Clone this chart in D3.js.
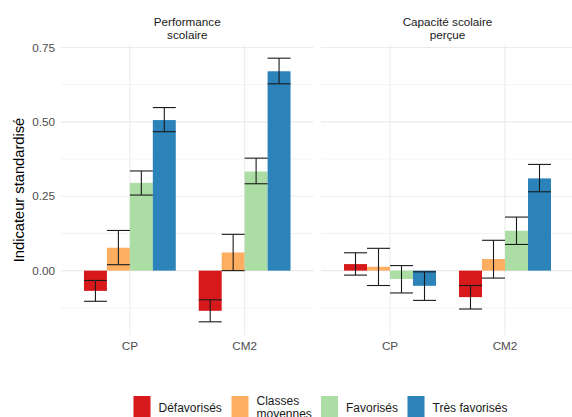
<!DOCTYPE html>
<html>
<head>
<meta charset="utf-8">
<script src="https://cdn.jsdelivr.net/npm/d3@7"></script>
<style>
  html, body { margin: 0; padding: 0; background: #fff; }
  svg { display: block; font-family: "Liberation Sans", Arial, sans-serif; }
</style>
</head>
<body>
<svg id="chart" width="572" height="417"></svg>
<script>
// ---- data ----
const panels = ["Performance scolaire", "Capacité scolaire perçue"];
const panelTitleLines = [["Performance", "scolaire"], ["Capacité scolaire", "perçue"]];
const niveaux = ["CP", "CM2"];
const groupes = ["Défavorisés", "Classes moyennes", "Favorisés", "Très favorisés"];
const legendLabelLines = [["Défavorisés"], ["Classes", "moyennes"], ["Favorisés"], ["Très favorisés"]];
const couleurs = ["#d7191c", "#fdae61", "#abdda4", "#2b83ba"];

const perfCP   = [-0.068, 0.077, 0.295, 0.506];
const perfCPlo = [-0.103, 0.020, 0.254, 0.467];
const perfCPhi = [-0.033, 0.135, 0.335, 0.548];
const perfCM2   = [-0.135, 0.061, 0.333, 0.670];
const perfCM2lo = [-0.172, 0.000, 0.292, 0.628];
const perfCM2hi = [-0.098, 0.122, 0.378, 0.714];

const capCP   = [0.022, 0.013, -0.028, -0.051];
const capCPlo = [-0.015, -0.050, -0.075, -0.100];
const capCPhi = [0.060, 0.075, 0.017, -0.004];
const capCM2   = [-0.089, 0.039, 0.134, 0.310];
const capCM2lo = [-0.129, -0.025, 0.088, 0.265];
const capCM2hi = [-0.050, 0.102, 0.180, 0.357];

const majorTicks = [0, 0.25, 0.5, 0.75];
const minorTicks = [-0.125, 0.125, 0.375, 0.625];
const tickLabels = ["0.00", "0.25", "0.50", "0.75"];

// ---- build rows ----
const rows = [];
function addRows(panel, niveau, vals, lo, hi) {
  groupes.forEach((g, i) => rows.push({panel, niveau, groupe: g, value: vals[i], lo: lo[i], hi: hi[i]}));
}
addRows(panels[0], "CP", perfCP, perfCPlo, perfCPhi);
addRows(panels[0], "CM2", perfCM2, perfCM2lo, perfCM2hi);
addRows(panels[1], "CP", capCP, capCPlo, capCPhi);
addRows(panels[1], "CM2", capCM2, capCM2lo, capCM2hi);

const svg = d3.select("#chart");

// ---- layout ----
const panelTop = 45, panelBottom = 335;
const panelRanges = [[61, 313.5], [321, 574]];

const yMin = d3.min(rows, d => d.lo), yMax = d3.max(rows, d => d.hi);
const pad = (yMax - yMin) * 0.05;
const y = d3.scaleLinear().domain([yMin - pad, yMax + pad]).range([panelBottom, panelTop]);

const color = d3.scaleOrdinal().domain(groupes).range(couleurs);

panels.forEach((p, pi) => {
  const [L, R] = panelRanges[pi];
  const x = d3.scaleBand().domain(niveaux).range([L, R]).paddingInner(0.2).paddingOuter(0.2);
  const xg = d3.scaleBand().domain(groupes).range([0, x.bandwidth()]).padding(0);
  const g = svg.append("g");

  g.selectAll(".minor").data(minorTicks).join("line")
    .attr("x1", L).attr("x2", R)
    .attr("y1", d => y(d)).attr("y2", d => y(d))
    .attr("stroke", "#ebebeb").attr("stroke-width", 0.6);
  g.selectAll(".major").data(majorTicks).join("line")
    .attr("x1", L).attr("x2", R)
    .attr("y1", d => y(d)).attr("y2", d => y(d))
    .attr("stroke", "#ebebeb").attr("stroke-width", 1.1);
  g.selectAll(".vgrid").data(niveaux).join("line")
    .attr("x1", d => x(d) + x.bandwidth() / 2).attr("x2", d => x(d) + x.bandwidth() / 2)
    .attr("y1", panelTop).attr("y2", panelBottom)
    .attr("stroke", "#ebebeb").attr("stroke-width", 1.1);

  const data = rows.filter(r => r.panel === p);
  g.selectAll(".bar").data(data).join("rect")
    .attr("x", d => x(d.niveau) + xg(d.groupe))
    .attr("width", xg.bandwidth())
    .attr("y", d => Math.min(y(d.value), y(0)))
    .attr("height", d => Math.abs(y(d.value) - y(0)))
    .attr("fill", d => color(d.groupe));
  const eb = g.selectAll(".eb").data(data).join("g");
  eb.append("line")
    .attr("x1", d => x(d.niveau) + xg(d.groupe) + xg.bandwidth() / 2)
    .attr("x2", d => x(d.niveau) + xg(d.groupe) + xg.bandwidth() / 2)
    .attr("y1", d => y(d.lo)).attr("y2", d => y(d.hi));
  eb.append("line")
    .attr("x1", d => x(d.niveau) + xg(d.groupe))
    .attr("x2", d => x(d.niveau) + xg(d.groupe) + xg.bandwidth())
    .attr("y1", d => y(d.lo)).attr("y2", d => y(d.lo));
  eb.append("line")
    .attr("x1", d => x(d.niveau) + xg(d.groupe))
    .attr("x2", d => x(d.niveau) + xg(d.groupe) + xg.bandwidth())
    .attr("y1", d => y(d.hi)).attr("y2", d => y(d.hi));
  eb.selectAll("line").attr("stroke", "#1a1a1a").attr("stroke-width", 1.1);

  const xAxis = d3.axisBottom(x).tickSize(0).tickPadding(0);
  const xa = g.append("g").attr("transform", `translate(0,${panelBottom + 7})`).call(xAxis);
  xa.select(".domain").remove();
  xa.selectAll("text").attr("fill", "#4d4d4d").attr("font-size", "11.7px")
    .attr("font-family", "Liberation Sans, Arial, sans-serif");

  const cx = (L + R) / 2;
  const st = g.append("text").attr("text-anchor", "middle").attr("fill", "#1a1a1a")
    .attr("font-size", "11.7px");
  panelTitleLines[pi].forEach((line, li) => {
    st.append("tspan").attr("x", cx).attr("y", 26 + li * 12.5).text(line);
  });
});

const yAxis = d3.axisLeft(y).tickValues(majorTicks).tickFormat((d, i) => tickLabels[i]).tickSize(0).tickPadding(0);
const ya = svg.append("g").attr("transform", `translate(${55},0)`).call(yAxis);
ya.select(".domain").remove();
ya.selectAll("text").attr("fill", "#4d4d4d").attr("font-size", "11.7px")
  .attr("font-family", "Liberation Sans, Arial, sans-serif");

svg.append("text")
  .attr("transform", `translate(24,${(panelTop + panelBottom) / 2}) rotate(-90)`)
  .attr("text-anchor", "middle").attr("fill", "#000").attr("font-size", "14.7px")
  .text("Indicateur standardisé");

const legendX = [133.5, 231.5, 321, 407.5];
const lg = svg.append("g");
groupes.forEach((gname, i) => {
  lg.append("rect").attr("x", legendX[i]).attr("y", 396).attr("width", 17).attr("height", 24)
    .attr("fill", color(gname));
  const t = lg.append("text").attr("fill", "#1a1a1a").attr("font-size", "12px");
  const lines = legendLabelLines[i];
  lines.forEach((line, li) => {
    t.append("tspan").attr("x", legendX[i] + 25)
      .attr("y", lines.length === 1 ? 412 : 405 + li * 12.5).text(line);
  });
});
</script>
</body>
</html>
